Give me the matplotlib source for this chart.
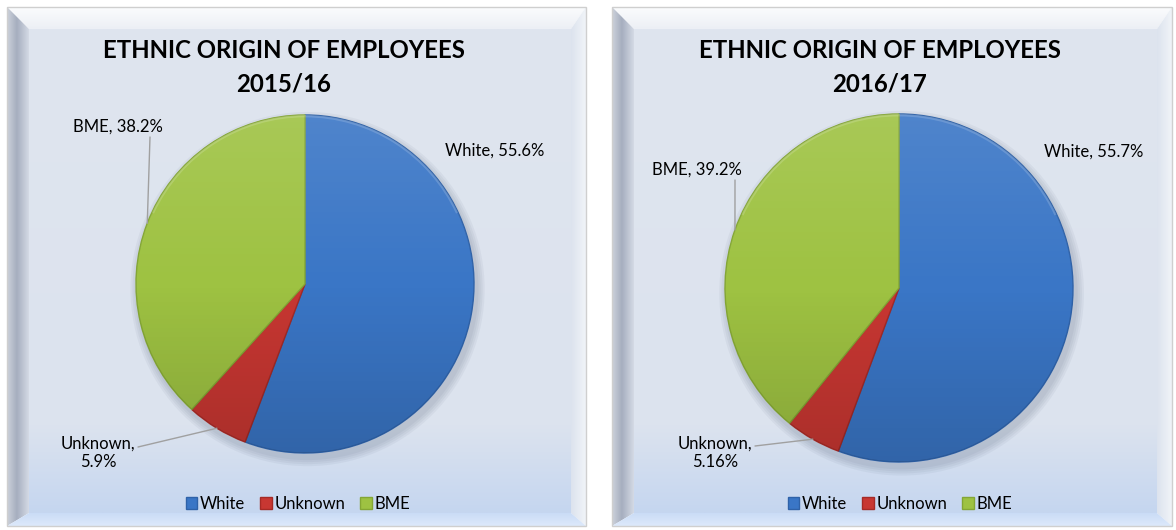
import numpy as np
import matplotlib
matplotlib.use('Agg')
import matplotlib.pyplot as plt
from matplotlib.patches import Polygon, Circle, Rectangle, ConnectionPatch, Arc
from matplotlib.colors import to_rgb

# ---------------- data ----------------
categories = ['White', 'Unknown', 'BME']
values_1516 = [55.6, 5.9, 38.2]
values_1617 = [55.7, 5.16, 39.2]
labels_1516 = ['White, 55.6%', 'Unknown,\n5.9%', 'BME, 38.2%']
labels_1617 = ['White, 55.7%', 'Unknown,\n5.16%', 'BME, 39.2%']
title_line1 = ['ETHNIC ORIGIN OF EMPLOYEES', 'ETHNIC ORIGIN OF EMPLOYEES']
title_line2 = ['2015/16', '2016/17']
colors = ['#3A76C6', '#C83732', '#9EC242']
edge_colors = ['#2F62A8', '#A52A26', '#84A635']

W, H = 1176, 530
FONT = ['Lato', 'DejaVu Sans']
plt.rcParams['font.family'] = FONT

fig = plt.figure(figsize=(W / 100, H / 100), dpi=100, facecolor='white')
bg = fig.add_axes([0, 0, 1, 1])
bg.set_xlim(0, W)
bg.set_ylim(H, 0)
bg.axis('off')


def gradient(ax, x0, y0, x1, y1, stops, vertical=True, clip=None, z=0):
    n = 256
    t = np.linspace(0, 1, n)
    pos = [s[0] for s in stops]
    cols = np.array([to_rgb(s[1]) for s in stops])
    arr = np.stack([np.interp(t, pos, cols[:, i]) for i in range(3)], axis=-1)
    if vertical:
        img = np.repeat(arr[:, None, :], 2, axis=1)
    else:
        img = np.repeat(arr[None, :, :], 2, axis=0)
    im = ax.imshow(img, extent=(x0, x1, y1, y0), aspect='auto',
                   interpolation='bilinear', zorder=z)
    if clip is not None:
        clip.set_transform(ax.transData)
        im.set_clip_path(clip)
    return im


def panel(ax, x0, y0, x1, y1):
    t, l, r, b = 22, 22, 15, 13
    ix0, iy0, ix1, iy1 = x0 + l, y0 + t, x1 - r, y1 - b
    gradient(ax, ix0, iy0, ix1, iy1,
             [(0, '#DFE5EF'), (0.82, '#DCE3EE'), (1, '#C5D6F0')], True)
    gradient(ax, x0, y0, x1, iy0, [(0, '#FBFCFD'), (1, '#ECEFF5')], True,
             Polygon([(x0, y0), (x1, y0), (ix1, iy0), (ix0, iy0)]))
    gradient(ax, x0, y0, ix0, y1,
             [(0, '#CDD2DB'), (0.45, '#A6AEBF'), (1, '#D4DAE5')], False,
             Polygon([(x0, y0), (ix0, iy0), (ix0, iy1), (x0, y1)]))
    gradient(ax, ix1, y0, x1, y1, [(0, '#DCE3EE'), (1, '#F1F4F8')], False,
             Polygon([(x1, y0), (x1, y1), (ix1, iy1), (ix1, iy0)]))
    gradient(ax, x0, iy1, x1, y1, [(0, '#CADCF6'), (1, '#DDE9FB')], True,
             Polygon([(x0, y1), (x1, y1), (ix1, iy1), (ix0, iy1)]))
    ax.add_patch(Rectangle((x0, y0), x1 - x0, y1 - y0, fill=False,
                           edgecolor='#CFCFCF', lw=1, zorder=2))


panel(bg, 7, 7, 586, 526)
panel(bg, 612, 7, 1172, 526)


def pie_panel(values, labels, cx, cy, rad, title_x, t1, t2,
              label_pos, leader_from, legend_x):
    size = 2.5 * rad
    ax = fig.add_axes([(cx - size / 2) / W, (H - cy - size / 2) / H, size / W, size / H])
    for k in range(4):
        ax.add_patch(Circle((0.015, -0.03), 1.0 + 0.012 * (4 - k),
                            color='#30405A', alpha=0.05, lw=0, zorder=0))
    wedges, _ = ax.pie(values, colors=colors, startangle=90, counterclock=False,
                       radius=1, wedgeprops=dict(linewidth=1.0))
    for w, ec in zip(wedges, edge_colors):
        w.set_edgecolor(ec)
        w.set_zorder(2)
    n = 256
    yy = np.linspace(1, 0, n)[:, None] * np.ones((1, n))
    rgba = np.zeros((n, n, 4))
    top = yy > 0.5
    rgba[..., :3] = np.where(top[..., None], 1.0, 0.0)
    rgba[..., 3] = np.where(top, (yy - 0.5) * 0.22, (0.5 - yy) * 0.30)
    im = ax.imshow(rgba, extent=(-1, 1, -1, 1), zorder=3, interpolation='bilinear')
    im.set_clip_path(Circle((0, 0), 1.0, transform=ax.transData))
    # subtle bevel highlight on upper rim
    ax.add_patch(Arc((0, 0), 1.985, 1.985, theta1=25, theta2=155,
                     color='white', alpha=0.16, lw=1.6, zorder=4))
    ax.set_xlim(-1.25, 1.25)
    ax.set_ylim(-1.25, 1.25)
    ax.set_aspect('equal')
    ax.axis('off')

    bg.text(title_x, 50, t1, ha='center', va='center', fontsize=17.3,
            fontweight='bold', color='black', zorder=5)
    bg.text(title_x, 84, t2, ha='center', va='center', fontsize=17.3,
            fontweight='bold', color='black', zorder=5)

    total = sum(values)
    cum = 0
    for i, (v, lab) in enumerate(zip(values, labels)):
        mid = np.deg2rad(90 - (cum + v / 2) / total * 360)
        cum += v
        (lx, ly, ha) = label_pos[i]
        bg.text(lx, ly, lab, ha=ha, va='center', fontsize=12, color='black',
                multialignment='center', linespacing=1.15, zorder=5)
        if leader_from[i] is not None:
            fx, fy = leader_from[i]
            cp = ConnectionPatch(xyA=(fx, H - fy), coordsA='figure pixels',
                                 xyB=(np.cos(mid), np.sin(mid)), coordsB='data',
                                 axesB=ax, color='#A0A0A0', lw=1.0, zorder=6)
            fig.add_artist(cp)

    fig.legend(wedges, categories, loc='center',
               bbox_to_anchor=(legend_x / W, (H - 504) / H), ncol=3,
               frameon=False, fontsize=12, handlelength=0.7, handleheight=0.7,
               handletextpad=0.15, columnspacing=0.9, borderaxespad=0)
    return ax


pie_panel(values_1516, labels_1516, 305, 284, 169, 284,
          title_line1[0], title_line2[0],
          [(445, 151, 'left'), (98, 453, 'center'), (73, 127, 'left')],
          [None, (138, 447), (150, 137)], 298)

pie_panel(values_1617, labels_1617, 899, 288, 174, 880,
          title_line1[1], title_line2[1],
          [(1044, 152, 'left'), (715, 453, 'center'), (652, 170, 'left')],
          [None, (755, 446), (735, 180)], 900)

fig.savefig('out.png', dpi=100, facecolor='white')
